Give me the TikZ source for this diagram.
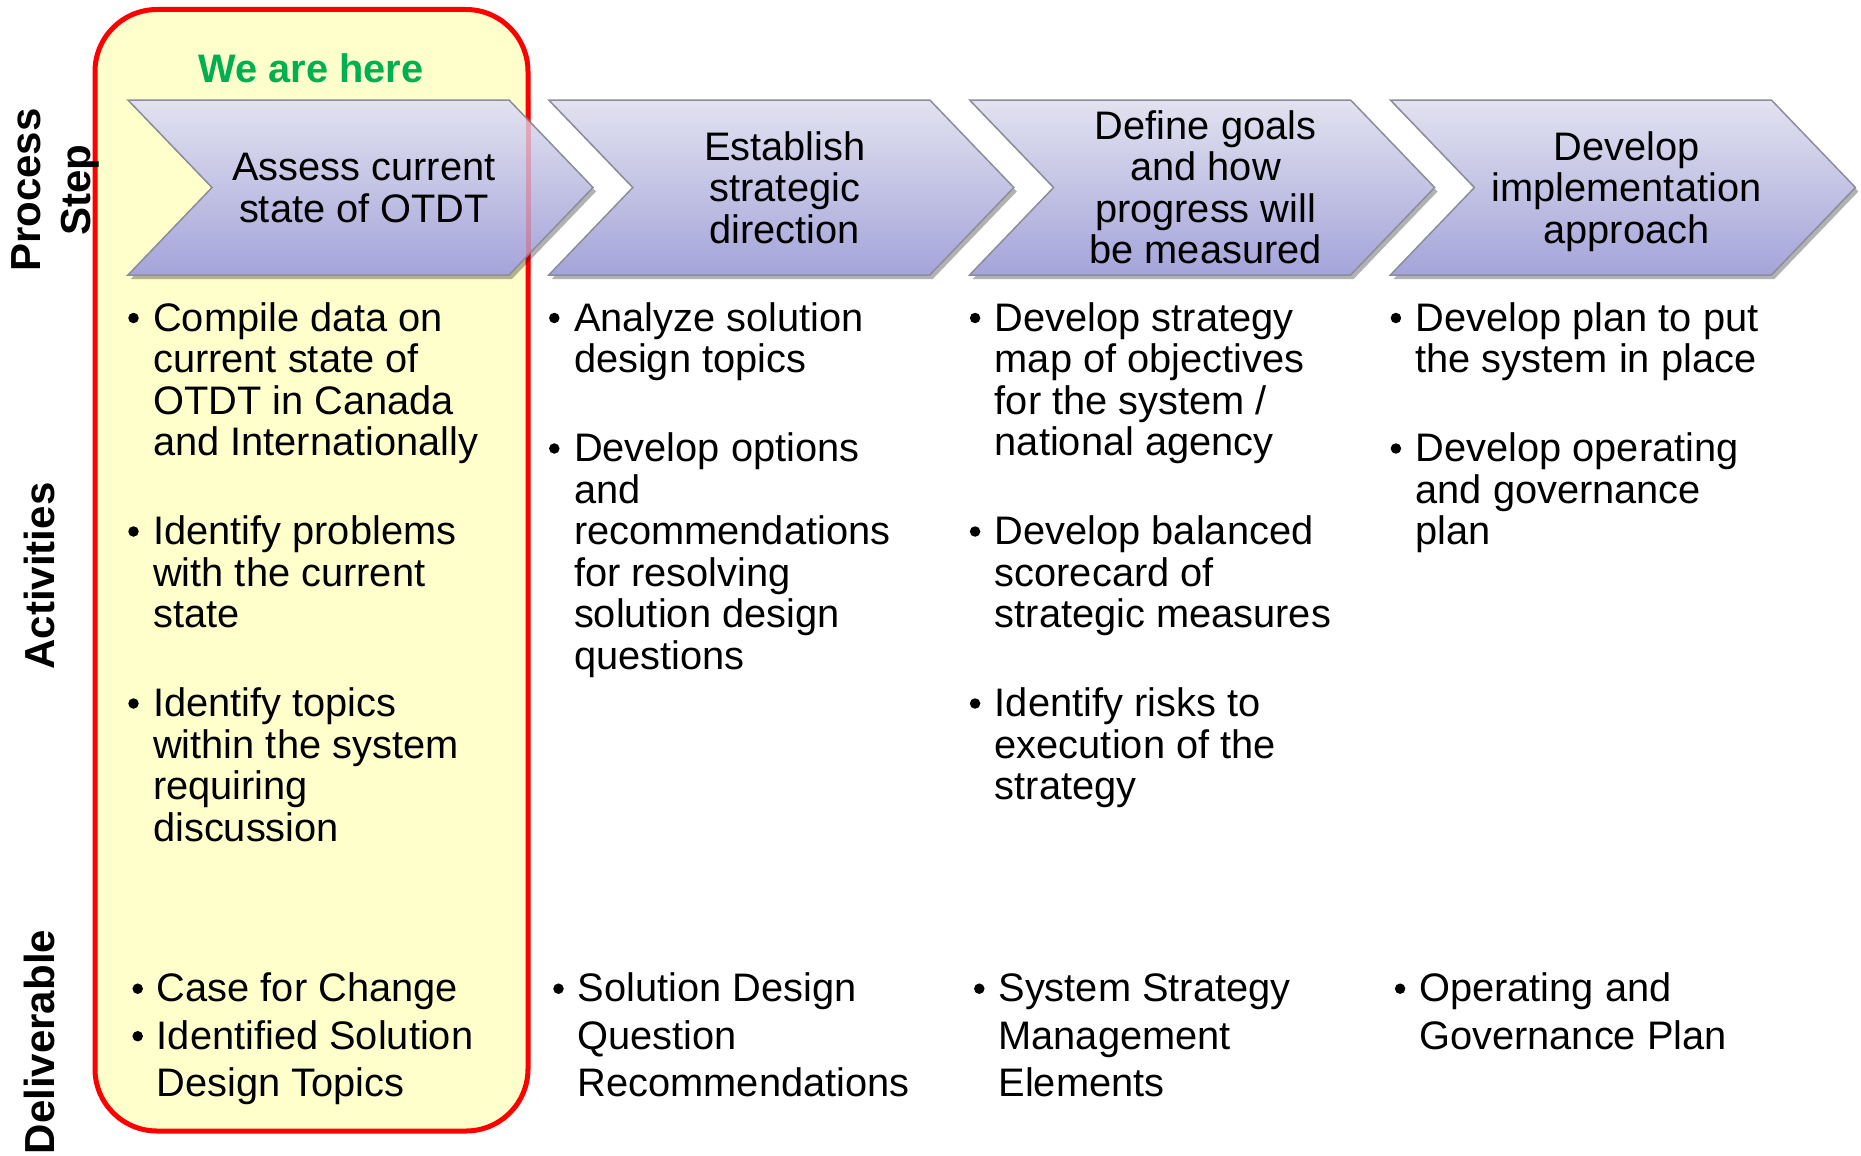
\documentclass[tikz,border=0pt]{standalone}
\usepackage{fontspec}
\setmainfont{Liberation Sans}
\usetikzlibrary{shadows}
\definecolor{boxyellow}{HTML}{FFFFCC}
\definecolor{hereGreen}{HTML}{00B050}
\definecolor{chevTop}{HTML}{E2E2F0}
\definecolor{chevBot}{HTML}{A4A4DA}
\definecolor{chevLine}{HTML}{8C8C9C}
\newcommand\bodyfont{\fontsize{39.8pt}{41.5pt}\selectfont}
\newcommand\delfont{\fontsize{39.8pt}{47.5pt}\selectfont}
\newcommand\sidefont{\fontsize{42pt}{50pt}\selectfont\bfseries}
\tikzset{
  chevron/.style={draw=chevLine, line width=1.5pt, top color=chevTop, bottom color=chevBot,
    drop shadow={shadow xshift=3pt, shadow yshift=-4pt, opacity=0.3, fill=black}},
  chevtext/.style={anchor=base, inner sep=0pt, font=\bodyfont},
  acttext/.style={anchor=base west, inner sep=0pt, font=\bodyfont},
  deltext/.style={anchor=base west, inner sep=0pt, font=\delfont},
  bulletdot/.style={circle, fill=black, inner sep=0pt, minimum size=10.5pt},
  sidelabel/.style={rotate=90, align=center, inner sep=0pt, font=\sidefont},
  herebox/.style={draw=red, line width=5pt, fill=boxyellow, rounded corners=62pt},
}
\newcommand\actitem[4]{%
  \node[bulletdot] (#1b) at (#2-19.5,#3-13) {};
  \node[acttext] (#1) at (#2,#3) {\parbox[t]{420pt}{\raggedright #4}};
}
\newcommand\delitem[4]{%
  \node[bulletdot] (#1b) at (#2-19,#3-13) {};
  \node[deltext] (#1) at (#2,#3) {\parbox[t]{420pt}{\raggedright #4}};
}
\newcommand\chevlabel[4]{%
  \node[chevtext] (#1) at (#2,#3) {\parbox[t]{300pt}{\centering #4}};
}
\begin{document}
\begin{tikzpicture}[x=1pt,y=-1pt]
\useasboundingbox (0,0) rectangle (1861,1156);
% highlight box
\path[herebox] (95,9.5) rectangle (528,1131);
\node[anchor=base, inner sep=0pt, font=\fontsize{39.8pt}{41.5pt}\selectfont\bfseries, text=hereGreen] (here) at (311,82) {We are here};
% chevrons
\foreach \i in {0,1,2,3} {
  \pgfmathsetmacro\xo{128+420.8*\i}
  \path[chevron] (\xo,100) -- ++(381,0) -- ++(84,87.5) -- ++(-84,87.5) -- ++(-381,0) -- ++(84,-87.5) -- cycle;
}
\draw[red, opacity=0.22, line width=5pt] (528,100) -- (528,275);
% chevron labels
\chevlabel{c1}{364}{180.75}{Assess current\\state of OTDT}
\chevlabel{c2}{784.8}{160}{Establish\\strategic\\direction}
\chevlabel{c3}{1205.6}{139.25}{Define goals\\and how\\progress will\\be measured}
\chevlabel{c4}{1626.4}{160}{Develop\\implementation\\approach}
% side labels
\node[sidelabel] (lblProcess) at (55,190) {Process\\Step};
\node[sidelabel] (lblAct) at (39,576) {Activities};
\node[sidelabel] (lblDel) at (39,1042) {Deliverable};
% activities
\actitem{a11}{153}{331}{Compile data on\\current state of\\OTDT in Canada\\and Internationally}
\actitem{a12}{153}{544.5}{Identify problems\\with the current\\state}
\actitem{a13}{153}{716.5}{Identify topics\\within the system\\requiring\\discussion}
\actitem{a21}{573.8}{331}{Analyze solution\\design topics}
\actitem{a22}{573.8}{461.5}{Develop options\\and\\recommendations\\for resolving\\solution design\\questions}
\actitem{a31}{994.6}{331}{Develop strategy\\map of objectives\\for the system /\\national agency}
\actitem{a32}{994.6}{544.5}{Develop balanced\\scorecard of\\strategic measures}
\actitem{a33}{994.6}{716.5}{Identify risks to\\execution of the\\strategy}
\actitem{a41}{1415.4}{331}{Develop plan to put\\the system in place}
\actitem{a42}{1415.4}{461.5}{Develop operating\\and governance\\plan}
% deliverables
\delitem{d11}{156.7}{1001.7}{Case for Change}
\delitem{d12}{156.7}{1049.2}{Identified Solution\\Design Topics}
\delitem{d21}{577.5}{1001.7}{Solution Design\\Question\\Recommendations}
\delitem{d31}{998.3}{1001.7}{System Strategy\\Management\\Elements}
\delitem{d41}{1419.1}{1001.7}{Operating and\\Governance Plan}
\end{tikzpicture}
\end{document}
